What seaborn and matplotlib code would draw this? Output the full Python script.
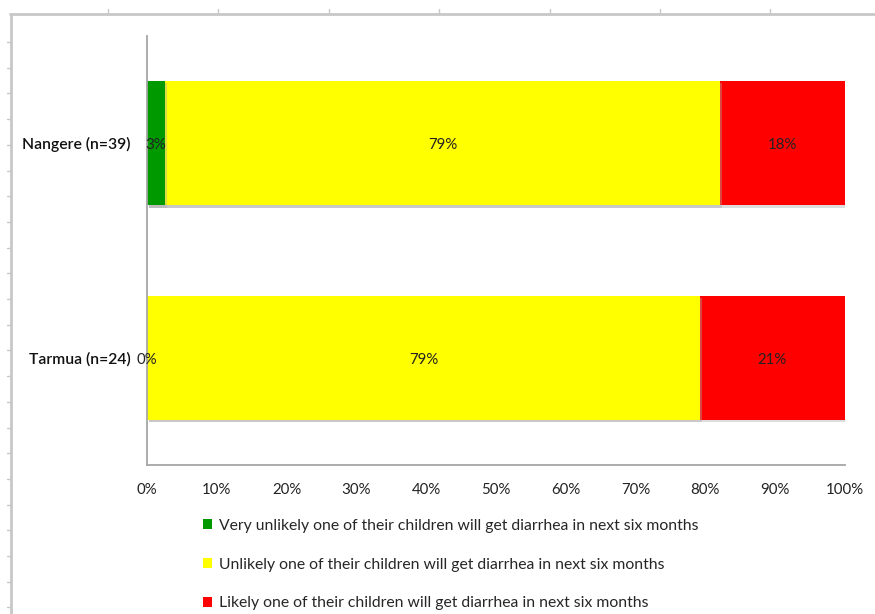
import matplotlib
matplotlib.use("Agg")
import matplotlib.pyplot as plt
import matplotlib.patheffects as pe
from matplotlib.lines import Line2D
from matplotlib.patches import Patch
import seaborn as sns
import pandas as pd
import numpy as np

# ---- data ----
sites = ["Nangere (n=39)", "Tarmua (n=24)"]
very_unlikely = [2.6, 0.0]
unlikely = [79.5, 79.2]
likely = [17.9, 20.8]
value_labels = [["3%", "79%", "18%"], ["0%", "79%", "21%"]]
series_names = [
    "Very unlikely one of their children will get diarrhea in next six months",
    "Unlikely one of their children will get diarrhea in next six months",
    "Likely one of their children will get diarrhea in next six months",
]
series_colors = ["#009900", "#FFFF00", "#FF0000"]
x_ticks = [0, 10, 20, 30, 40, 50, 60, 70, 80, 90, 100]

sns.set_theme(style="white")
plt.rcParams["font.family"] = ["Lato", "DejaVu Sans"]

df = pd.DataFrame({"site": sites, "vu": very_unlikely, "u": unlikely, "l": likely})
df["c1"] = df["vu"]
df["c2"] = df["vu"] + df["u"]
df["c3"] = df["vu"] + df["u"] + df["l"]

fig = plt.figure(figsize=(8.75, 6.14), dpi=100)
ax = fig.add_axes([147 / 875, 1 - 465 / 614, (845 - 147) / 875, (465 - 36) / 614])

shadow = [pe.SimplePatchShadow(offset=(1.5, -1.5), shadow_rgbFace="#aaaaaa", alpha=0.4), pe.Normal()]
for col, color in zip(["c3", "c2", "c1"], series_colors[::-1]):
    sns.barplot(data=df, x=col, y="site", orient="h", color=color, width=0.58,
                saturation=1, linewidth=0, ax=ax)
for p in ax.patches:
    p.set_path_effects(shadow)

# value labels
for i in range(len(sites)):
    starts = [0, df["c1"][i], df["c2"][i]]
    widths = [df["vu"][i], df["u"][i], df["l"][i]]
    for j in range(3):
        cx = starts[j] + widths[j] / 2
        ax.text(cx, i + 0.01, value_labels[i][j], ha="center", va="center",
                fontsize=10.8, color="#222222")

ax.set_xlim(0, 100)
ax.set_ylim(1.5, -0.5)
ax.set_xticks(x_ticks)
ax.set_xticklabels([f"{t}%" for t in x_ticks])
ax.set_xlabel("")
ax.set_ylabel("")
ax.tick_params(axis="x", length=0, pad=13, labelsize=10.8, labelcolor="#222222")
ax.tick_params(axis="y", length=0, pad=12, labelsize=11.3, labelcolor="#111111")
for lab in ax.get_yticklabels():
    lab.set_fontweight("semibold")
for s in ["top", "right"]:
    ax.spines[s].set_visible(False)
for s in ["left", "bottom"]:
    ax.spines[s].set_color("#a6a6a6")
    ax.spines[s].set_linewidth(1.3)
ax.grid(False)

# legend
handles = [Patch(facecolor=c, edgecolor="none") for c in series_colors]
fig.legend(handles, series_names, loc="upper left", bbox_to_anchor=(203 / 875, 1 - 519 / 614),
           frameon=False, fontsize=11.3, handlelength=0.6, handleheight=0.6,
           handletextpad=0.4, labelspacing=1.57, borderaxespad=0, borderpad=0)

# outer sheet frame with ruler ticks
fc = "#c8c8c8"
fig.add_artist(Line2D([10 / 875, 1], [1 - 14 / 614, 1 - 14 / 614], color=fc, lw=2, transform=fig.transFigure))
fig.add_artist(Line2D([11 / 875, 11 / 875], [0, 1 - 14 / 614], color=fc, lw=2, transform=fig.transFigure))
for xt in np.arange(108, 875, 110.4):
    fig.add_artist(Line2D([xt / 875, xt / 875], [1 - 14 / 614, 1 - 9 / 614], color=fc, lw=1, transform=fig.transFigure))
for yt in np.arange(42, 614, 25.7):
    fig.add_artist(Line2D([7 / 875, 11 / 875], [1 - yt / 614, 1 - yt / 614], color=fc, lw=1, transform=fig.transFigure))

fig.savefig("out.png", dpi=100)
